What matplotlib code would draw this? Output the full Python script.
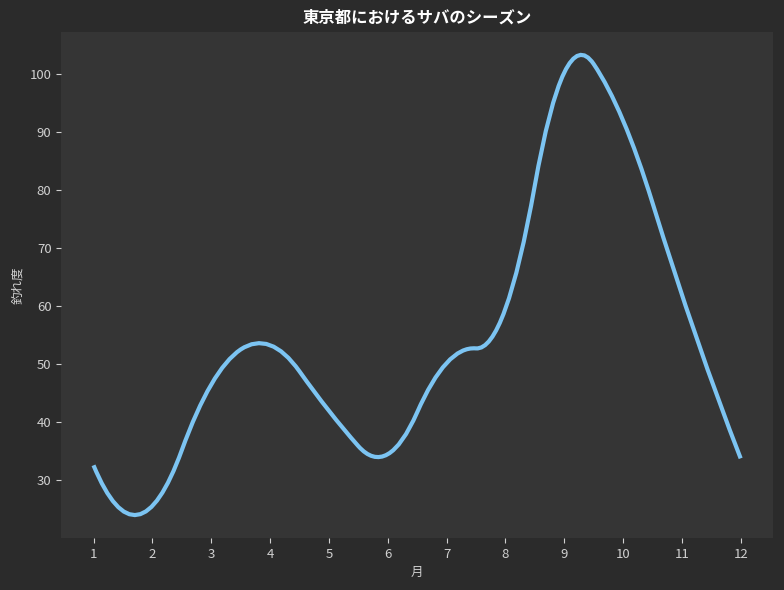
import numpy as np
import matplotlib.pyplot as plt
from matplotlib.path import Path
from matplotlib.patches import PathPatch

plt.rcParams['font.family'] = ['Noto Sans CJK JP', 'DejaVu Sans']

months = [1, 2, 3, 4, 5, 6, 7, 8, 9, 10, 11, 12]
catch_level = [32.6, 25.6, 46.5, 53.3, 42, 34.5, 50.2, 59.5, 100.2, 92, 62, 33.8]

title = '東京都におけるサバのシーズン'
xlabel = '月'
ylabel = '釣れ度'


def quad_spline_path(x, y):
    # quadratic interpolating spline, knots at midpoints (2nd and 2nd-to-last dropped)
    x = np.asarray(x, float)
    y = np.asarray(y, float)
    mids = (x[1:] + x[:-1]) / 2
    knots = np.r_[x[0], mids[1:-1], x[-1]]
    npc = len(knots) - 1
    # piece j: f(t) = a + b*(t - k_j) + c*(t - k_j)**2
    A = np.zeros((3 * npc, 3 * npc))
    rhs = np.zeros(3 * npc)
    row = 0
    for xi, yi in zip(x, y):
        j = min(np.searchsorted(knots, xi, side='right') - 1, npc - 1)
        d = xi - knots[j]
        A[row, 3 * j:3 * j + 3] = [1, d, d * d]
        rhs[row] = yi
        row += 1
    for j in range(npc - 1):
        h = knots[j + 1] - knots[j]
        A[row, 3 * j:3 * j + 3] = [1, h, h * h]
        A[row, 3 * j + 3] = -1
        row += 1
        A[row, 3 * j:3 * j + 3] = [0, 1, 2 * h]
        A[row, 3 * j + 4] = -1
        row += 1
    coef = np.linalg.solve(A, rhs).reshape(npc, 3)
    verts = [(knots[0], coef[0, 0])]
    codes = [Path.MOVETO]
    for j in range(npc):
        a, b, c = coef[j]
        h = knots[j + 1] - knots[j]
        verts += [(knots[j] + h / 2, a + b * h / 2),
                  (knots[j + 1], a + b * h + c * h * h)]
        codes += [Path.CURVE3] * 2
    return Path(verts, codes)


fig = plt.figure(figsize=(7.84, 5.9), dpi=100, facecolor='#2b2b2b')
ax = fig.add_axes([0.078, 0.088, 0.908, 0.858])
ax.set_facecolor('#353535')

ax.add_patch(PathPatch(quad_spline_path(months, catch_level), facecolor='none',
                       edgecolor='#7cc4f2', linewidth=3, capstyle='butt'))
ax.autoscale_view()

ax.set_xticks(months)
ax.set_yticks([30, 40, 50, 60, 70, 80, 90, 100])
for s in ax.spines.values():
    s.set_visible(False)
ax.tick_params(colors='#d0d0d0', labelsize=9.5, length=3.5, width=0.8)

ax.set_title(title, color='white', fontsize=11.8, fontweight='bold', pad=7)
ax.set_xlabel(xlabel, color='#d0d0d0', fontsize=9)
ax.set_ylabel(ylabel, color='#d0d0d0', fontsize=9)

fig.savefig('out.png', dpi=100, facecolor=fig.get_facecolor())
